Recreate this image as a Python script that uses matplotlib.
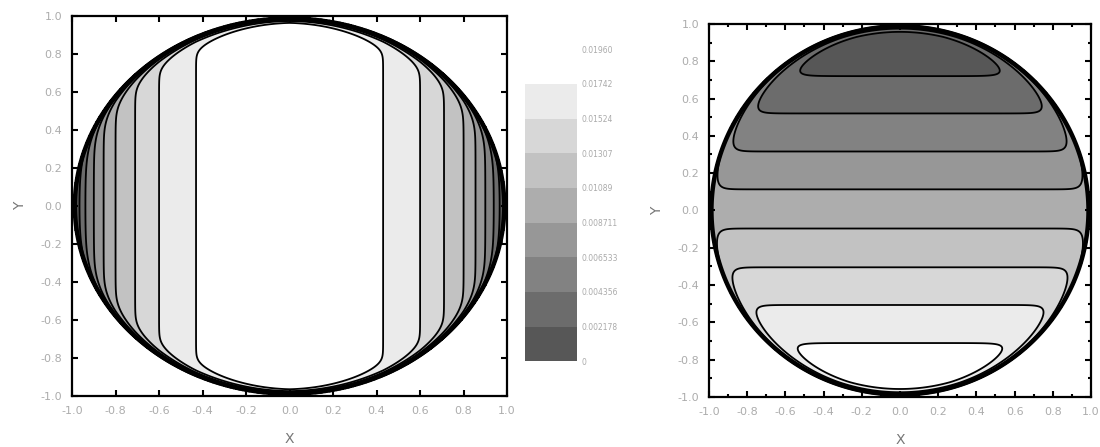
import numpy as np
import matplotlib
matplotlib.use('Agg')
import matplotlib.pyplot as plt
from matplotlib.colors import ListedColormap, BoundaryNorm
from matplotlib.ticker import MultipleLocator, FormatStrFormatter

plt.rcParams['font.family'] = 'DejaVu Sans'
plt.rcParams['axes.unicode_minus'] = False

# contour levels and colour bands
levels = [0, 0.002178, 0.004356, 0.006533, 0.008711, 0.01089, 0.01307, 0.01524, 0.01742, 0.01960]
level_labels = ['0', '0.002178', '0.004356', '0.006533', '0.008711',
                '0.01089', '0.01307', '0.01524', '0.01742', '0.01960']
band_colors = ['#575757', '#6c6c6c', '#828282', '#979797', '#adadad',
               '#c2c2c2', '#d7d7d7', '#ebebeb', '#ffffff']

# left plot: |x| where each level crosses y = 0
left_x = [0.0, 0.43, 0.60, 0.71, 0.80, 0.855, 0.90, 0.94, 0.97, 0.985]
left_val = [0.0196, 0.01742, 0.01524, 0.01307, 0.01089, 0.008711, 0.006533, 0.004356, 0.002178, 0.0]

# right plot: y where each level crosses x = 0
right_y = [-0.92, -0.711, -0.507, -0.305, -0.097, 0.113, 0.316, 0.52, 0.72, 0.93]
right_val = [0.0196, 0.01742, 0.01524, 0.01307, 0.01089, 0.008711, 0.006533, 0.004356, 0.002178, 0.0]
right_edge_val = 0.0098

ticks = [-1.0, -0.8, -0.6, -0.4, -0.2, 0.0, 0.2, 0.4, 0.6, 0.8, 1.0]

cmap = ListedColormap(band_colors)
norm = BoundaryNorm(levels, cmap.N)

# grid on the unit disc
xs = np.linspace(-1, 1, 601)
X, Y = np.meshgrid(xs, xs)
R = np.hypot(X, Y)
rim = 0.995
d = np.clip(rim - R, 0, None)

F_left = np.interp(np.abs(X), left_x, left_val) * (1 - np.exp(-d / 0.014))
F_left = np.ma.masked_where(R > rim, F_left)

w = 1 - np.exp(-d / 0.025)
F_right = np.interp(Y, right_y, right_val) * w + right_edge_val * (1 - w)
F_right = np.ma.masked_where(R > rim, F_right)

fig = plt.figure(figsize=(11, 4.47), dpi=100)
ax1 = fig.add_axes([0.0655, 0.114, 0.3955, 0.850])
ax2 = fig.add_axes([0.6445, 0.112, 0.3473, 0.8345])
cax = fig.add_axes([0.4773, 0.192, 0.0473, 0.698])


def draw(ax, F, minor):
    cf = ax.contourf(X, Y, F, levels=levels, cmap=cmap, norm=norm)
    ax.contour(X, Y, F, levels=levels[1:-1], colors='k', linewidths=1.3)
    ax.contour(X, Y, R, levels=[rim - 0.008], colors='k', linewidths=3.2)
    ax.set_xlim(-1, 1)
    ax.set_ylim(-1, 1)
    ax.set_xticks(ticks)
    ax.set_yticks(ticks)
    ax.xaxis.set_major_formatter(FormatStrFormatter('%.1f'))
    ax.yaxis.set_major_formatter(FormatStrFormatter('%.1f'))
    ax.tick_params(which='both', direction='in', top=True, right=True,
                   width=1.5, color='k', labelcolor='#acacac', labelsize=8)
    ax.tick_params(which='major', length=4.5, pad=7)
    if minor:
        ax.xaxis.set_minor_locator(MultipleLocator(0.1))
        ax.yaxis.set_minor_locator(MultipleLocator(0.1))
        ax.tick_params(which='minor', length=2.5)
    for s in ax.spines.values():
        s.set_linewidth(1.6)
    ax.set_xlabel('X', color='#777777', fontsize=10, labelpad=12)
    ax.set_ylabel('Y', color='#777777', fontsize=10, labelpad=10)
    return cf


cf = draw(ax1, F_left, False)
draw(ax2, F_right, True)

cb = fig.colorbar(cf, cax=cax, ticks=levels)
cb.outline.set_visible(False)
cb.set_ticklabels(level_labels)
cax.tick_params(length=0, labelsize=5.5, labelcolor='#aaaaaa', pad=3)

fig.savefig('out.png', dpi=100)
